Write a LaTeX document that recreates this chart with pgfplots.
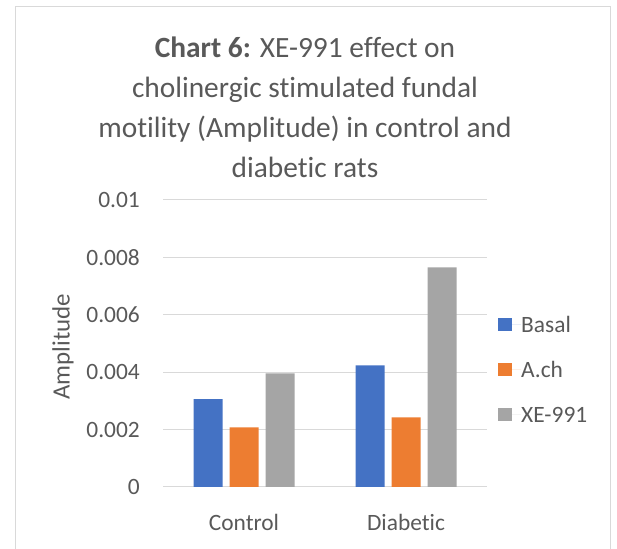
\documentclass[border=0pt]{standalone}
\usepackage{fontspec}
\setmainfont{Carlito}[Ligatures={NoCommon}]
\usepackage{pgfplots}
\pgfplotsset{compat=1.18}
\definecolor{txt}{HTML}{595959}
\definecolor{gridc}{HTML}{D9D9D9}
\definecolor{cblue}{HTML}{4472C4}
\definecolor{corange}{HTML}{ED7D31}
\definecolor{cgray}{HTML}{A5A5A5}
\begin{document}
\begin{tikzpicture}[x=1bp,y=1bp]
\useasboundingbox (0,0) rectangle (617,549);
\draw[gridc,line width=1bp] (15,-10) -- (15,542) -- (610,542) -- (610,-10);
\node[align=center,text=txt,font=\fontsize{29.5}{40}\selectfont] at (305,441.5)
  {\textbf{Chart 6:} XE-991 effect on\\cholinergic stimulated fundal\\motility (Amplitude) in control and\\diabetic rats};
\begin{axis}[
  at={(163bp,62bp)}, anchor=south west,
  scale only axis, width=324bp, height=287bp,
  xmin=-0.5, xmax=1.5, ymin=0, ymax=0.01,
  ybar=7bp, bar width=29bp,
  xtick={0,1}, xticklabels={Control,Diabetic},
  ytick={0,0.002,0.004,0.006,0.008,0.01},
  yticklabels={0,0.002,0.004,0.006,0.008,0.01},
  scaled y ticks=false,
  /pgf/number format/assume math mode=true,
  major tick length=0pt,
  axis x line*=bottom, axis y line*=left,
  y axis line style={draw=none},
  x axis line style={draw=gridc,line width=1bp,-},
  ymajorgrids, grid style={gridc,line width=1bp},
  tick label style={font=\fontsize{23.5}{28}\selectfont,text=txt},
  xticklabel style={anchor=base,yshift=-44bp},
  yticklabel style={anchor=east,inner sep=0pt,xshift=-23bp},
  ylabel={Amplitude},
  ylabel style={font=\fontsize{25}{28}\selectfont,text=txt,at={(axis description cs:-0.309,0.488)},anchor=center},
  legend style={draw=none,fill=none,at={(1.034,0.4077)},anchor=west,
    font=\fontsize{23.5}{28}\selectfont,text=txt,row sep=30bp,inner sep=0pt,
    nodes={inner sep=0pt,text height=15bp,text depth=0pt}},
  legend cell align=left,
  legend image code/.code={\fill[#1,draw=none] (0bp,-6.5bp) rectangle (14bp,6.5bp);\path (0,0) -- (23bp,0);},
]
\addplot[fill=cblue,draw=none] coordinates {(0,0.00306) (1,0.00424)};
\addplot[fill=corange,draw=none] coordinates {(0,0.00208) (1,0.00243)};
\addplot[fill=cgray,draw=none] coordinates {(0,0.00396) (1,0.00765)};
\legend{Basal,A.ch,XE-991}
\end{axis}
\end{tikzpicture}
\end{document}
